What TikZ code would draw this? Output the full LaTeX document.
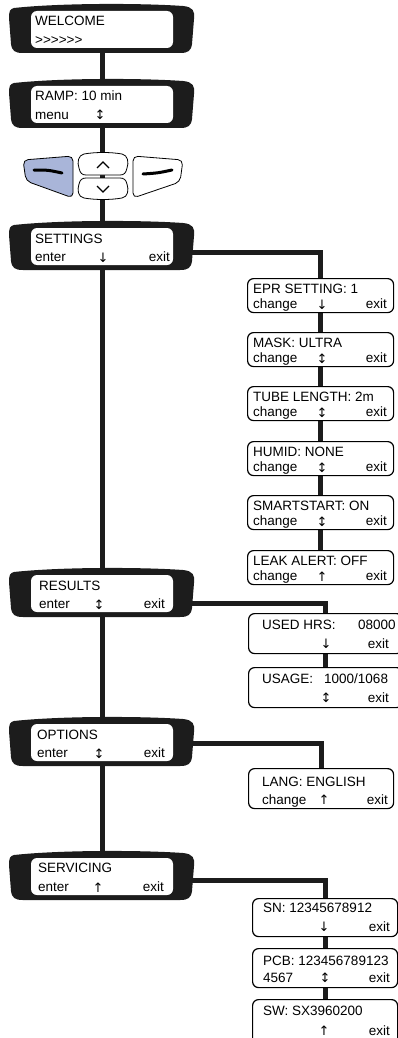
\documentclass[tikz,border=0pt]{standalone}
\usepackage{fontspec}
\setmainfont{Liberation Sans}
\newfontfamily\arrowfont{DejaVu Sans}
\usetikzlibrary{backgrounds}
\definecolor{bez}{HTML}{1C1C1C}
\definecolor{btnblue}{HTML}{A9B5D9}
\tikzset{
  conn/.style={line width=5pt, draw=bez},
  subbox/.style={draw=black, line width=1.2pt, fill=white, rounded corners=6pt, inner sep=0pt},
  txt/.style={font=\fontsize{13.5pt}{16pt}\selectfont, inner sep=0pt},
  tl/.style={txt, anchor=base west},
  tr/.style={txt, anchor=base east},
  tc/.style={font=\arrowfont\fontsize{13pt}{14pt}\selectfont, inner sep=0pt, anchor=base, text height=9pt, text depth=0pt},
  btn/.style={draw=black, line width=0.8pt},
}
\newcommand\bezel[2]{%
  \fill[bez] (14,{#2+3}) .. controls (60,{#2-2}) and (140,{#2-2}) .. (183,{#2+1})
     .. controls (193,{#2+2}) and (195,{#2+6}) .. (194,{#2+14})
     -- (192,{#2+39}) .. controls (191,{#2+46}) and (188,{#2+48}) .. (180,{#2+48})
     -- (23,{#2+48}) .. controls (15,{#2+48}) and (12,{#2+46}) .. (11,{#2+39})
     -- (9,{#2+13}) .. controls (9,{#2+6}) and (10,{#2+4}) .. (14,{#2+3}) -- cycle;
  \fill[white, rounded corners=6pt] (31,{#2+6}) rectangle (173,{#2+43});
  \node[inner sep=0pt, minimum width=184pt, minimum height=48pt, anchor=north west] (#1) at (10,#2) {};
}
\newcommand\menubox[5]{%
  \node[subbox, minimum width={#4-#2}, minimum height={#5-#3}, anchor=north west] (#1) at (#2,#3) {};
}
\begin{document}
\begin{tikzpicture}[x=1pt,y=-1pt]
\useasboundingbox (0,0) rectangle (397,1038);

% main column bezels
\bezel{welcome}{5}
\bezel{ramp}{80}
\bezel{settings}{222}
\bezel{results}{569}
\bezel{options}{718}
\bezel{servicing}{852}

% buttons
\draw[btn, fill=btnblue, rounded corners=5pt] (23,160) -- (73,156) -- (73,198) -- (26,181) -- cycle;
\draw[line width=3pt, line cap=round] (34,170) .. controls (48,170) .. (62,173);
\draw[btn, fill=white, rounded corners=5pt] (133,156) -- (183,160) -- (180,182) -- (133,198) -- cycle;
\draw[line width=3pt, line cap=round] (143,174) .. controls (158,173) .. (172,170);
\draw[btn, fill=white] (84,154) .. controls (95,152) and (111,152) .. (122,154) .. controls (128,155) and (129,163) .. (127,168) .. controls (126,173) and (124,175) .. (120,175) -- (86,175) .. controls (82,175) and (80,173) .. (79,168) .. controls (77,163) and (78,155) .. (84,154) -- cycle;
\draw[line width=1.2pt] (97,168) -- (103,162) -- (109,168);
\draw[btn, fill=white] (86,178) -- (120,178) .. controls (124,178) and (126,180) .. (127,184) .. controls (129,190) and (128,197) .. (122,198) .. controls (111,200) and (95,200) .. (84,198) .. controls (78,197) and (77,190) .. (79,184) .. controls (80,180) and (82,178) .. (86,178) -- cycle;
\draw[line width=1.2pt] (97,186) -- (103,192) -- (109,186);

% sub boxes
\menubox{epr}{247}{278}{393}{312}
\menubox{mask}{247}{332}{393}{366}
\menubox{tube}{247}{386}{393}{420}
\menubox{humid}{247}{441}{393}{475}
\menubox{smart}{247}{495}{393}{529}
\menubox{leak}{247}{550}{393}{584}
\menubox{used}{248}{613}{402}{653}
\menubox{usage}{248}{667}{402}{707}
\menubox{lang}{248}{768}{393}{808}
\menubox{sn}{252}{898}{397}{936}
\menubox{pcb}{252}{948}{397}{987}
\menubox{sw}{252}{999}{397}{1048}

% connectors
\begin{pgfonlayer}{background}
\draw[conn] (welcome.center) -- (servicing.center);
\draw[conn] ([xshift=-5pt,yshift=-6pt]settings.east) -| (epr.center) -- (mask.center) -- (tube.center) -- (humid.center) -- (smart.center) -- (leak.center);
\draw[conn] ([xshift=-5pt,yshift=-10pt]results.east) -| (used.center) -- (usage.center);
\draw[conn] ([xshift=-5pt,yshift=-1pt]options.east) -| (lang.center);
\draw[conn] ([xshift=-5pt,yshift=-4pt]servicing.east) -| (sn.center) -- (pcb.center) -- (sw.center);
\end{pgfonlayer}

% main texts
\node[tl] (welcome1) at (35,26) {WELCOME};
\node[tl] (welcome2) at (35,44.5) {>{}>{}>{}>{}>{}>};
\node[tl] (ramp1) at (35,101) {RAMP: 10 min};
\node[tl] (ramp2) at (35,119.5) {menu};
\node[tc] (ramp3) at (100,120) {↕};
\node[tl] (settings1) at (35,243) {SETTINGS};
\node[tl] (settings2) at (35,261.5) {enter};
\node[tc] (settings3) at (103,262) {↓};
\node[tr] (settings4) at (170,261.5) {exit};
\node[tl] (results1) at (39,590) {RESULTS};
\node[tl] (results2) at (39,608.5) {enter};
\node[tc] (results3) at (99,609) {↕};
\node[tr] (results4) at (165,608.5) {exit};
\node[tl] (options1) at (37,739.5) {OPTIONS};
\node[tl] (options2) at (37,757.5) {enter};
\node[tc] (options3) at (99,758) {↕};
\node[tr] (options4) at (165,757.5) {exit};
\node[tl] (servicing1) at (38,872) {SERVICING};
\node[tl] (servicing2) at (38,891.5) {enter};
\node[tc] (servicing3) at (98,892) {↑};
\node[tr] (servicing4) at (164,891.5) {exit};

% sub texts
\node[tl] (epr1) at (253,293.5) {EPR SETTING: 1};
\node[tl] (epr2) at (253,308.5) {change};
\node[tc] (epr3) at (322,309) {↓};
\node[tr] (epr4) at (387,308.5) {exit};
\node[tl] (mask1) at (253,347.5) {MASK: ULTRA};
\node[tl] (mask2) at (253,362.5) {change};
\node[tc] (mask3) at (322,363) {↕};
\node[tr] (mask4) at (387,362.5) {exit};
\node[tl] (tube1) at (253,401.5) {TUBE LENGTH: 2m};
\node[tl] (tube2) at (253,416.5) {change};
\node[tc] (tube3) at (322,417) {↕};
\node[tr] (tube4) at (387,416.5) {exit};
\node[tl] (humid1) at (253,456.5) {HUMID: NONE};
\node[tl] (humid2) at (253,471.5) {change};
\node[tc] (humid3) at (322,472) {↕};
\node[tr] (humid4) at (387,471.5) {exit};
\node[tl] (smart1) at (253,510.5) {SMARTSTART: ON};
\node[tl] (smart2) at (253,525.5) {change};
\node[tc] (smart3) at (322,526) {↕};
\node[tr] (smart4) at (387,525.5) {exit};
\node[tl] (leak1) at (253,565.5) {LEAK ALERT: OFF};
\node[tl] (leak2) at (253,580.5) {change};
\node[tc] (leak3) at (322,581) {↑};
\node[tr] (leak4) at (387,580.5) {exit};
\node[tl] (used1) at (262,629.5) {USED HRS:};
\node[tl] (used2) at (358,629.5) {08000};
\node[tc] (used3) at (326,648.5) {↓};
\node[tr] (used4) at (389,648) {exit};
\node[tl] (usage1) at (262,683.5) {USAGE:};
\node[tl] (usage2) at (324,683.5) {1000/1068};
\node[tc] (usage3) at (326,702.5) {↕};
\node[tr] (usage4) at (389,702) {exit};
\node[tl] (lang1) at (262,786) {LANG: ENGLISH};
\node[tl] (lang2) at (262,804) {change};
\node[tc] (lang3) at (324,804.5) {↑};
\node[tr] (lang4) at (388,804) {exit};
\node[tl] (sn1) at (263,912) {SN: 12345678912};
\node[tc] (sn3) at (324,931.5) {↓};
\node[tr] (sn4) at (390,931) {exit};
\node[tl] (pcb1) at (263,965.5) {PCB: 123456789123};
\node[tl] (pcb2) at (263,982) {4567};
\node[tc] (pcb3) at (325,982.5) {↕};
\node[tr] (pcb4) at (390,982) {exit};
\node[tl] (sw1) at (263,1015) {SW: SX3960200};
\node[tc] (sw3) at (324,1035.5) {↑};
\node[tr] (sw4) at (390,1035) {exit};
\end{tikzpicture}
\end{document}
